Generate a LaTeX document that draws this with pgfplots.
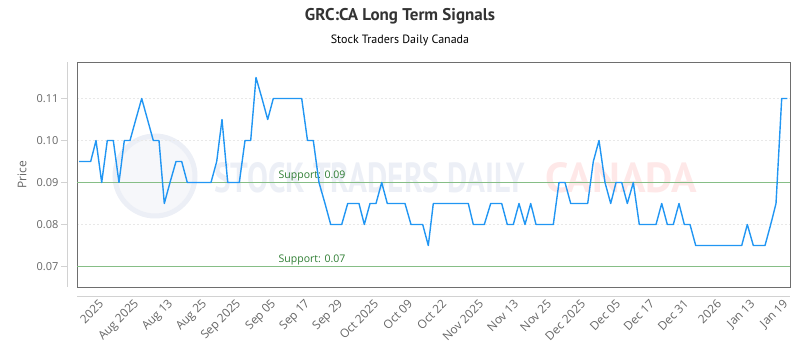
\documentclass[border=0pt]{standalone}
\usepackage{fontspec}
\setmainfont{Open Sans}
\newfontfamily\titlefont{PT Sans}
\usepackage{graphicx}
\usepackage{pgfplots}
\pgfplotsset{compat=1.18}
\definecolor{lineblue}{RGB}{33,150,243}
\definecolor{supgreen}{RGB}{134,190,134}
\definecolor{suptext}{RGB}{46,125,50}
\definecolor{txtgray}{RGB}{102,102,102}
\definecolor{titlegray}{RGB}{51,51,51}
\definecolor{framegray}{RGB}{110,110,110}
\definecolor{axgray}{RGB}{210,210,210}
\definecolor{gridgray}{RGB}{232,232,232}
\definecolor{wmblue}{RGB}{236,239,246}
\definecolor{wmred}{RGB}{254,232,232}
\begin{document}
\begin{tikzpicture}[x=1pt,y=1pt]
\path[use as bounding box] (0,0) rectangle (800,350);
% watermark
\fill[wmblue!50] (155,174) circle (42);
\draw[wmblue, line width=5pt] (155,174) circle (40);
\node[anchor=west, inner sep=0pt, text=wmblue] at (214,172) {\resizebox{311pt}{30pt}{\titlefont\bfseries STOCK TRADERS DAILY}};
\node[anchor=west, inner sep=0pt, text=wmred] at (545,172) {\resizebox{152pt}{30pt}{\titlefont\bfseries CANADA}};
% titles
\node[font=\titlefont\bfseries\fontsize{17}{20}\selectfont, text=titlegray] at (400,334) {GRC:CA Long Term Signals};
\node[font=\titlefont\fontsize{12}{14}\selectfont, text=black] at (400,310) {Stock Traders Daily Canada};
% outer axis lines
\draw[axgray, line width=0.8pt] (67,63) -- (67,288);
\foreach \yy in {251.5,209.5,167.5,125.5,83.5} {\draw[axgray, line width=0.8pt] (61,\yy) -- (67,\yy);}
\draw[axgray, line width=0.8pt] (77,54) -- (790,54);
\begin{axis}[
  at={(77pt,63pt)}, anchor=south west, scale only axis,
  width=713pt, height=225pt,
  xmin=77, xmax=790, ymin=0.06512, ymax=0.11869,
  axis line style={framegray, line width=0.9pt},
  major tick length=0pt,
  xtick={91,127,161,195,229,264,298,331,366,400,434,471,506,539,573,608,642,676,709,743,776},
  xticklabels={2025, Aug 2025, Aug 13, Aug 25, Sep 2025, Sep 05, Sep 17, Sep 29, Oct 2025, Oct 09, Oct 22, Nov 2025, Nov 13, Nov 25, Dec 2025, Dec 05, Dec 17, Dec 31, 2026, Jan 13, Jan 19},
  xticklabel style={rotate=45, anchor=east, font=\fontsize{11.8}{13}\selectfont, text=txtgray, yshift=-18pt},
  ytick={0.07,0.08,0.09,0.10,0.11},
  yticklabels={0.07,0.08,0.09,0.10,0.11},
  yticklabel style={font=\fontsize{11}{13}\selectfont, text=txtgray, xshift=-15pt},
  ymajorgrids, grid style={gridgray, dash pattern=on 2pt off 2pt, line width=0.6pt},
  ylabel={Price},
  every axis y label/.style={at={(axis description cs:-0.0771,0.5)}, rotate=90, anchor=center, font=\fontsize{12}{14}\selectfont, text=txtgray},
]
\addplot[supgreen, line width=1.6pt] coordinates {(77,0.09) (790,0.09)};
\addplot[supgreen, line width=1.6pt] coordinates {(77,0.07) (790,0.07)};
\node[anchor=south west, text=suptext, font=\fontsize{10.5}{12}\selectfont, inner sep=1.5pt] at (axis cs:277,0.09) {Support: 0.09};
\node[anchor=south west, text=suptext, font=\fontsize{10.5}{12}\selectfont, inner sep=1.5pt] at (axis cs:277,0.07) {Support: 0.07};
\addplot[lineblue, line width=1.4pt, line join=round] coordinates {
(79,0.095) (90.7,0.095) (96,0.10) (101.7,0.09) (107.3,0.10) (113.3,0.10) (119,0.09) (124.3,0.10) (130,0.10) (135.8,0.105) (141.7,0.11) (147.5,0.105) (153.3,0.10) (159,0.10) (164.3,0.085) (170,0.09) (176,0.095) (181.7,0.095) (187.3,0.09) (211,0.09) (216.7,0.095) (222,0.105) (227.7,0.09) (239.3,0.09) (245,0.10) (250.7,0.10) (256,0.115) (262,0.11) (267.7,0.105) (273.3,0.11) (301.7,0.11) (307.5,0.10) (313.3,0.10) (319,0.09) (325,0.085) (330.7,0.08) (341.7,0.08) (347.7,0.085) (359,0.085) (364.3,0.08) (370,0.085) (376,0.085) (381.7,0.09) (387.3,0.085) (405,0.085) (411,0.08) (422.7,0.08) (428.3,0.075) (433.3,0.085) (468.3,0.085) (473.3,0.08) (484.3,0.08) (490.7,0.085) (501.7,0.085) (507.3,0.08) (513.3,0.08) (519,0.085) (525,0.08) (530.7,0.085) (536,0.08) (553.3,0.08) (559,0.09) (565,0.09) (570.7,0.085) (587.7,0.085) (593.3,0.095) (599,0.10) (605,0.09) (610.7,0.085) (616,0.09) (621.7,0.09) (627.3,0.085) (633.3,0.09) (639.3,0.08) (656,0.08) (661.7,0.085) (667.3,0.08) (673.3,0.08) (679,0.085) (684.3,0.08) (690,0.08) (695.7,0.075) (741.7,0.075) (747.3,0.08) (753.3,0.075) (765,0.075) (770.7,0.08) (776,0.085) (781.7,0.11) (787.3,0.11)
};
\end{axis}
\end{tikzpicture}
\end{document}
